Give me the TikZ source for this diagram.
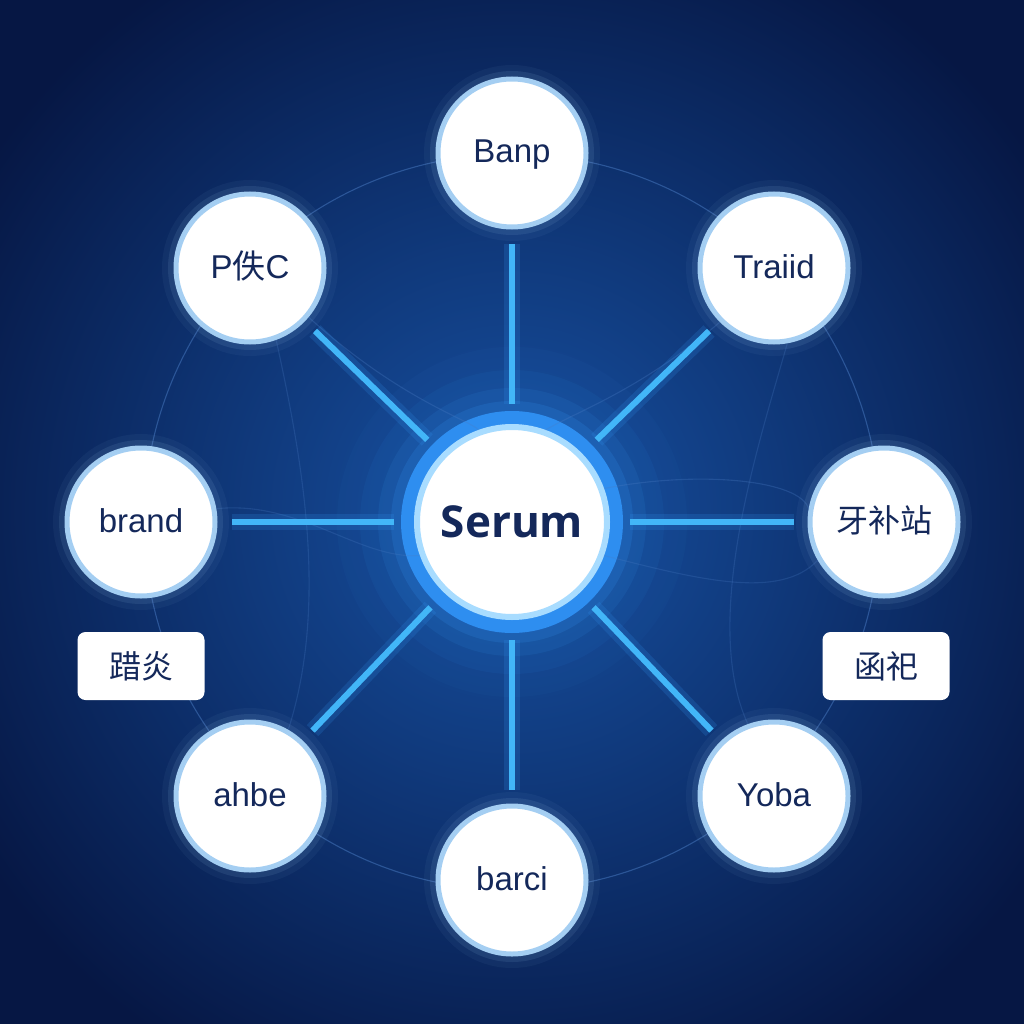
\documentclass[tikz,border=0pt]{standalone}
\usepackage{fontspec}
\setmainfont{Liberation Sans}
\newfontfamily\hubfont{Open Sans}
\newfontfamily\cjk{Noto Sans CJK SC}
\definecolor{bgin}{HTML}{1752A4}
\definecolor{bgout}{HTML}{061744}
\definecolor{ink}{HTML}{14285A}
\definecolor{ringc}{HTML}{A4CEF2}
\definecolor{spokec}{HTML}{42B6F8}
\definecolor{glowc}{HTML}{2F8FEA}
\definecolor{hubring}{HTML}{2E8EF0}
\definecolor{hubinner}{HTML}{A8DCFF}
\definecolor{faint}{HTML}{4A7CC4}
\begin{document}
\begin{tikzpicture}[x=1pt,y=-1pt,
  peer/.style={circle, fill=white, draw=ringc, line width=5pt, minimum size=148pt, inner sep=0pt, text=ink, text height=24pt, text depth=4pt, font=\fontsize{33}{38}\selectfont},
  hub/.style={circle, fill=white, draw=hubinner, line width=6pt, minimum size=190pt, inner sep=0pt, text=ink, font=\hubfont\fontsize{44}{50}\selectfont\bfseries},
  tag/.style={rectangle, rounded corners=8pt, fill=white, minimum width=127pt, minimum height=68pt, inner sep=0pt, text=ink, font=\fontsize{32}{36}\selectfont\cjk},
  spoke/.style={draw=spokec, line width=6pt, shorten <=20pt, shorten >=14pt},
  spokeglow/.style={draw=glowc, line width=16pt, opacity=0.2, shorten <=20pt, shorten >=14pt},
  faintline/.style={draw=faint, line width=1.1pt, opacity=0.5},
  peerglow/.style={fill=ringc}]
\useasboundingbox (0,0) rectangle (1024,1024);
\shade[inner color=bgin, outer color=bgout] (-120,-120) rectangle (1144,1144);
% positions
\coordinate (cS) at (512,522);
\coordinate (cA) at (512,153);
\coordinate (cB) at (250,268);
\coordinate (cC) at (774,268);
\coordinate (cD) at (141,522);
\coordinate (cE) at (884,522);
\coordinate (cF) at (250,796);
\coordinate (cG) at (774,796);
\coordinate (cH) at (512,880);
% central glow
\foreach \r/\o in {175/0.04,152/0.07,134/0.12,121/0.2} {\fill[glowc, opacity=\o] (cS) circle (\r);}
% outer faint ring
\draw[faintline] (cS) circle (368);
% peer glows
\foreach \c in {cA,cB,cC,cD,cE,cF,cG,cH} {
  \fill[peerglow, opacity=0.05] (\c) circle (88);
  \fill[peerglow, opacity=0.10] (\c) circle (82);
}
% nodes
\fill[hubring] (cS) circle (111);
\node[hub] (serum) at (cS) {Serum};
\node[peer] (banp) at (cA) {Banp};
\node[peer] (pxc) at (cB) {P{\cjk 佚}C};
\node[peer] (traiid) at (cC) {Traiid};
\node[peer] (brand) at (cD) {brand};
\node[peer, font=\fontsize{32}{36}\selectfont\cjk] (yazhan) at (cE) {牙补站};
\node[peer] (ahbe) at (cF) {ahbe};
\node[peer] (yoba) at (cG) {Yoba};
\node[peer] (barci) at (cH) {barci};
\node[tag] (tagl) at (141,666) {踖炎};
\node[tag] (tagr) at (886,666) {函祀};
% faint decorative curves
\draw[faintline, opacity=0.3] (pxc.-40) .. controls (400,400) and (470,420) .. (serum.110);
\draw[faintline, opacity=0.3] (traiid.-135) .. controls (640,390) and (580,410) .. (serum.70);
\draw[faintline, opacity=0.3] (serum.20) .. controls (700,470) and (800,480) .. (yazhan.170);
\draw[faintline, opacity=0.25] (serum.-20) .. controls (700,580) and (780,600) .. (yazhan.-150);
\draw[faintline, opacity=0.25] (brand.10) .. controls (300,500) and (360,560) .. (serum.-160);
\draw[faintline, opacity=0.25] (pxc.-70) .. controls (300,450) and (330,600) .. (ahbe.60);
\draw[faintline, opacity=0.25] (traiid.-80) .. controls (760,440) and (700,620) .. (yoba.110);
% spokes
\foreach \t in {banp,pxc,traiid,brand,yazhan,ahbe,yoba,barci} {
  \draw[spokeglow] (serum) -- (\t);
  \draw[spoke] (serum) -- (\t);
}
\end{tikzpicture}
\end{document}
